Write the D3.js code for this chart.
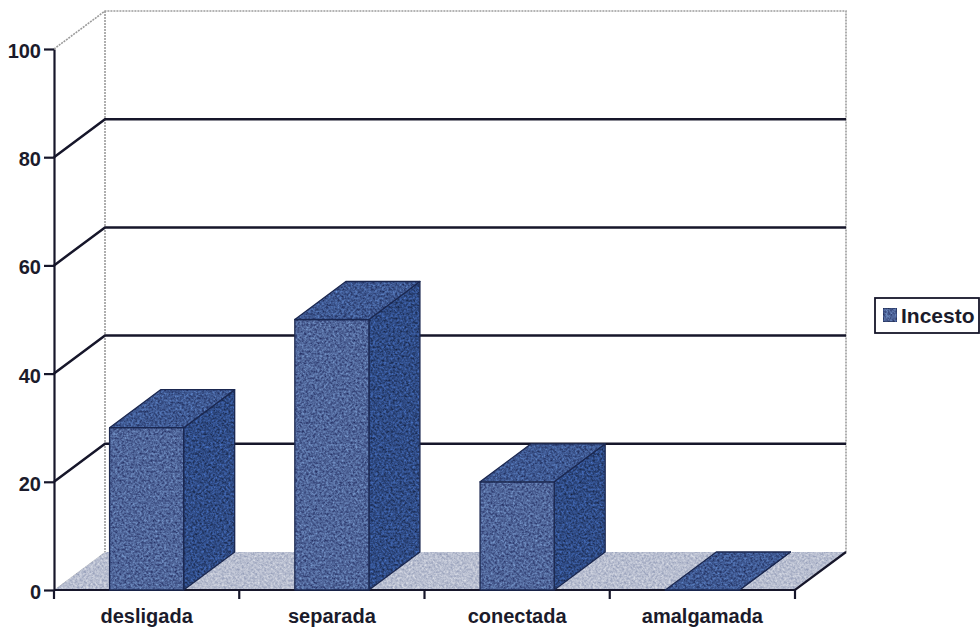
<!DOCTYPE html>
<html>
<head>
<meta charset="utf-8">
<script src="https://cdn.jsdelivr.net/npm/d3@7"></script>
<style>
  html, body { margin: 0; padding: 0; background: #ffffff; }
  svg { display: block; }
  text { font-family: "Liberation Sans", Arial, sans-serif; font-weight: bold; fill: #1b1b2b; }
</style>
</head>
<body>
<svg id="chart" width="980" height="630"></svg>
<script>
// Family cohesion categories and the share (%) for the "Incesto" group
const categories = ["desligada", "separada", "conectada", "amalgamada"];
const incesto = [30, 50, 20, 0];
const yTicks = [0, 20, 40, 60, 80, 100];
const seriesName = "Incesto";

const svg = d3.select("#chart");

// Front plane geometry and 3D depth offset
const x0 = 54, x1 = 795, yBottom = 590, yTop = 49;
const DX = 51, DY = 38;

const x = d3.scaleBand().domain(categories).range([x0, x1])
  .paddingInner(0.6).paddingOuter(0.3);
const xTickScale = d3.scaleBand().domain(categories).range([x0, x1]);
const y = d3.scaleLinear().domain([0, 100]).range([yBottom, yTop]);

const colors = {
  front: "#4f6599",
  side: "#2f4b85",
  top: "#3e5891",
  edge: "#1a2750",
  floor: "#b8bed0",
  grid: "#16162a",
  wall: "#9c9c9c"
};

// Soft mottled texture used for the shaded surfaces
const defs = svg.append("defs");
const grain = defs.append("filter").attr("id", "grain")
  .attr("x", 0).attr("y", 0).attr("width", 1).attr("height", 1)
  .attr("color-interpolation-filters", "sRGB");
grain.append("feTurbulence").attr("type", "fractalNoise")
  .attr("baseFrequency", 0.45).attr("numOctaves", 3).attr("seed", 7).attr("result", "noise");
grain.append("feColorMatrix").attr("in", "noise").attr("type", "matrix")
  .attr("values", "0.7 0 0 0 0.15  0.7 0 0 0 0.15  0.7 0 0 0 0.15  0 0 0 0 1")
  .attr("result", "gray");
grain.append("feBlend").attr("in", "gray").attr("in2", "SourceGraphic")
  .attr("mode", "overlay").attr("result", "mixed");
grain.append("feComposite").attr("in", "mixed").attr("in2", "SourceGraphic")
  .attr("operator", "in");

const line = d3.line();

// Back wall outline (light dotted edges)
const wall = svg.append("g");
wall.append("path")
  .attr("d", line([[x0, y(100)], [x0 + DX, y(100) - DY], [x1 + DX, y(100) - DY], [x1 + DX, yBottom - DY]]))
  .attr("fill", "none").attr("stroke", colors.wall).attr("stroke-width", 1.6)
  .attr("stroke-dasharray", "2,1");
wall.append("line")
  .attr("x1", x0 + DX).attr("x2", x0 + DX)
  .attr("y1", y(100) - DY).attr("y2", yBottom - DY)
  .attr("stroke", colors.wall).attr("stroke-width", 1.6).attr("stroke-dasharray", "2,1");

// Gridlines running along the side and back walls
svg.append("g").selectAll("path")
  .data(yTicks.filter(v => v > 0 && v < 100))
  .join("path")
  .attr("d", v => line([[x0, y(v)], [x0 + DX, y(v) - DY], [x1 + DX, y(v) - DY]]))
  .attr("fill", "none").attr("stroke", colors.grid).attr("stroke-width", 2.5);

// Floor
svg.append("path")
  .attr("d", line([[x0, yBottom], [x1, yBottom], [x1 + DX, yBottom - DY], [x0 + DX, yBottom - DY]]) + "Z")
  .attr("fill", colors.floor).attr("filter", "url(#grain)");
svg.append("path")
  .attr("d", line([[x0, yBottom], [x1, yBottom], [x1 + DX, yBottom - DY]]))
  .attr("fill", "none").attr("stroke", colors.grid).attr("stroke-width", 2.2);

// 3D columns
const bars = svg.append("g").selectAll("g")
  .data(categories.map((c, i) => ({ c, v: incesto[i] })))
  .join("g");

bars.each(function(d) {
  const g = d3.select(this);
  const bx = x(d.c), bw = x.bandwidth();
  const yt = y(d.v);
  const front = [[bx, yBottom], [bx + bw, yBottom], [bx + bw, yt], [bx, yt]];
  const side = [[bx + bw, yBottom], [bx + bw + DX, yBottom - DY], [bx + bw + DX, yt - DY], [bx + bw, yt]];
  const top = [[bx, yt], [bx + bw, yt], [bx + bw + DX, yt - DY], [bx + DX, yt - DY]];
  [[side, colors.side], [front, colors.front], [top, colors.top]].forEach(([pts, fill]) => {
    g.append("path")
      .attr("d", line(pts) + "Z")
      .attr("fill", fill).attr("filter", "url(#grain)");
    g.append("path")
      .attr("d", line(pts) + "Z")
      .attr("fill", "none").attr("stroke", colors.edge).attr("stroke-width", 1.3)
      .attr("stroke-linejoin", "round");
  });
});

// Value axis
const yAxis = svg.append("g")
  .attr("transform", `translate(${x0},0)`)
  .call(d3.axisLeft(y).tickValues(yTicks).tickSize(10).tickPadding(3).tickSizeOuter(0));
yAxis.select(".domain").attr("stroke", colors.grid).attr("stroke-width", 2.2);
yAxis.selectAll(".tick line").attr("stroke", colors.grid).attr("stroke-width", 2.2);
yAxis.selectAll(".tick text")
  .attr("font-size", 20).attr("font-family", "Liberation Sans, Arial, sans-serif")
  .attr("font-weight", "bold").attr("fill", "#1b1b2b").attr("dy", "0.42em");

// Category axis
const xAxis = svg.append("g")
  .attr("transform", `translate(0,${yBottom})`)
  .call(d3.axisBottom(xTickScale).tickSize(0).tickPadding(0));
xAxis.select(".domain").remove();
xAxis.selectAll(".tick text")
  .attr("font-size", 20).attr("font-family", "Liberation Sans, Arial, sans-serif")
  .attr("font-weight", "bold").attr("fill", "#1b1b2b").attr("y", 33).attr("dy", 0);
// tick marks between categories
const boundaries = categories.map(c => xTickScale(c)).concat([x1]);
svg.append("g").selectAll("line")
  .data(boundaries).join("line")
  .attr("x1", d => d).attr("x2", d => d)
  .attr("y1", yBottom).attr("y2", yBottom + 9)
  .attr("stroke", colors.grid).attr("stroke-width", 2.2);

// Legend
const legend = svg.append("g").attr("transform", "translate(875,298)");
legend.append("rect").attr("width", 104).attr("height", 35)
  .attr("fill", "#fff").attr("stroke", colors.grid).attr("stroke-width", 1.8);
legend.append("rect").attr("x", 8).attr("y", 10).attr("width", 14).attr("height", 14)
  .attr("fill", colors.front).attr("stroke", colors.edge).attr("stroke-width", 1)
  .attr("filter", "url(#grain)");
legend.append("text").attr("x", 26).attr("y", 25)
  .attr("font-size", 21).text(seriesName);
</script>
</body>
</html>
